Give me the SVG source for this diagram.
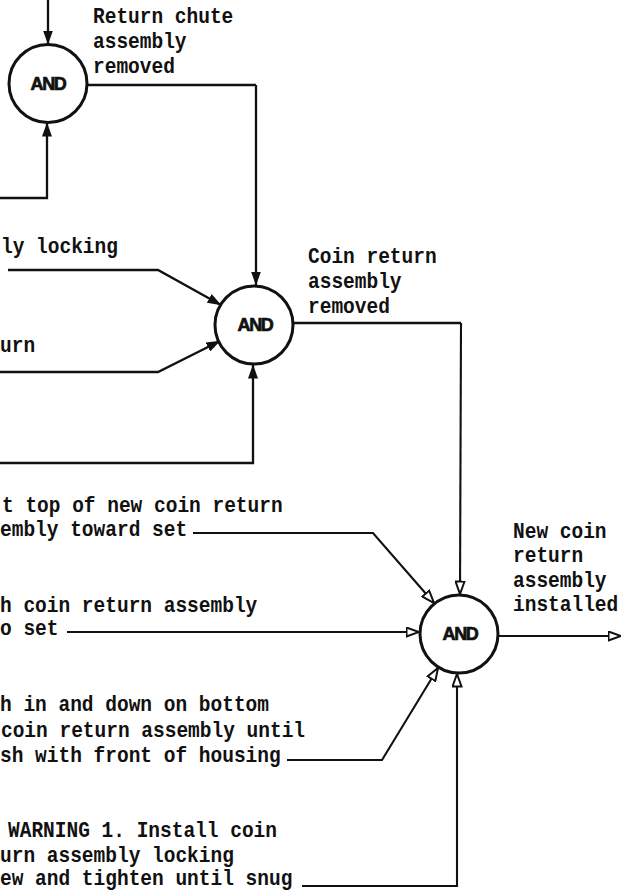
<svg xmlns="http://www.w3.org/2000/svg" width="621" height="891" viewBox="0 0 621 891">
<style>
.t{font-family:"Liberation Mono","DejaVu Sans Mono",monospace;font-size:19.5px;font-weight:bold;fill:#111}
.g{fill:#fff;stroke:#111;stroke-width:3}
.a{font-family:"Liberation Sans",Arial,sans-serif;font-size:18px;font-weight:bold;fill:#111;stroke:#111;stroke-width:0.7;text-anchor:middle;letter-spacing:-1.4px}
.c{fill:none;stroke:#111;stroke-width:2.3}
.cf{fill:none;stroke:#111;stroke-width:2.3;marker-end:url(#af)}
.ch{fill:none;stroke:#111;stroke-width:2.1;marker-end:url(#ah)}
</style>
<defs>
<marker id="af" viewBox="0 0 14 10" refX="13.5" refY="5" markerWidth="14" markerHeight="10" markerUnits="userSpaceOnUse" orient="auto">
<path d="M0,0 L14,5 L0,10 z" fill="#111"/>
</marker>
<marker id="ah" viewBox="0 0 15 11" refX="13.5" refY="5.5" markerWidth="15" markerHeight="11" markerUnits="userSpaceOnUse" orient="auto">
<path d="M1,1 L13.5,5.5 L1,10 z" fill="#fff" stroke="#111" stroke-width="2"/>
</marker>
</defs>
<rect width="621" height="891" fill="#fff"/>

<g id="connectors">
<path class="cf" d="M48,0 L48,44"/>
<path class="cf" d="M0,198 L47,198 L47,123"/>
<path class="c" d="M87,85 L256,85"/>
<path class="cf" d="M256,85 L256,285"/>
<path class="cf" d="M8,270 L158,270 L221,305"/>
<path class="cf" d="M0,372 L158,372 L220,341"/>
<path class="cf" d="M0,463 L253,463 L253,365"/>
<path class="c" d="M293,323 L461,323"/>
<path class="ch" d="M461,323 L460,594"/>
<path class="ch" d="M193,533 L373,533 L434,603"/>
<path class="ch" d="M67,632 L419,632"/>
<path class="ch" d="M287,760 L382,760 L438,668"/>
<path class="ch" d="M302,886 L457,886 L457,674"/>
<path class="ch" d="M498,636 L621,636"/>
</g>

<g id="gate1">
<circle class="g" cx="48" cy="83.5" r="39"/>
<text class="a" x="48" y="90">AND</text>
</g>
<g id="gate2">
<circle class="g" cx="254" cy="325" r="39"/>
<text class="a" x="255" y="331">AND</text>
</g>
<g id="gate3">
<circle class="g" cx="459" cy="634" r="39"/>
<text class="a" x="460" y="640">AND</text>
</g>

<g id="labels" transform="scale(1,1.15)">
<text class="t" x="93" y="20">Return chute</text>
<text class="t" x="93" y="41.74">assembly</text>
<text class="t" x="93" y="63.48">removed</text>

<text class="t" x="308" y="228.7">Coin return</text>
<text class="t" x="308" y="250.43">assembly</text>
<text class="t" x="308" y="272.17">removed</text>

<text class="t" x="513" y="467.83">New coin</text>
<text class="t" x="513" y="488.7">return</text>
<text class="t" x="513" y="510.43">assembly</text>
<text class="t" x="513" y="531.3">installed</text>

<text class="t" x="1" y="220">ly locking</text>
<text class="t" x="0" y="306.09">urn</text>

<text class="t" x="2" y="445.22">t top of new coin return</text>
<text class="t" x="0" y="466.09">embly toward set</text>

<text class="t" x="0" y="532.17">h coin return assembly</text>
<text class="t" x="0" y="552.17">o set</text>

<text class="t" x="0" y="618.26">h in and down on bottom</text>
<text class="t" x="1" y="640.87">coin return assembly until</text>
<text class="t" x="0" y="662.61">sh with front of housing</text>

<text class="t" x="8" y="727.83">WARNING 1. Install coin</text>
<text class="t" x="0" y="749.57">urn assembly locking</text>
<text class="t" x="0" y="769.6">ew and tighten until snug</text>
</g>
</svg>
